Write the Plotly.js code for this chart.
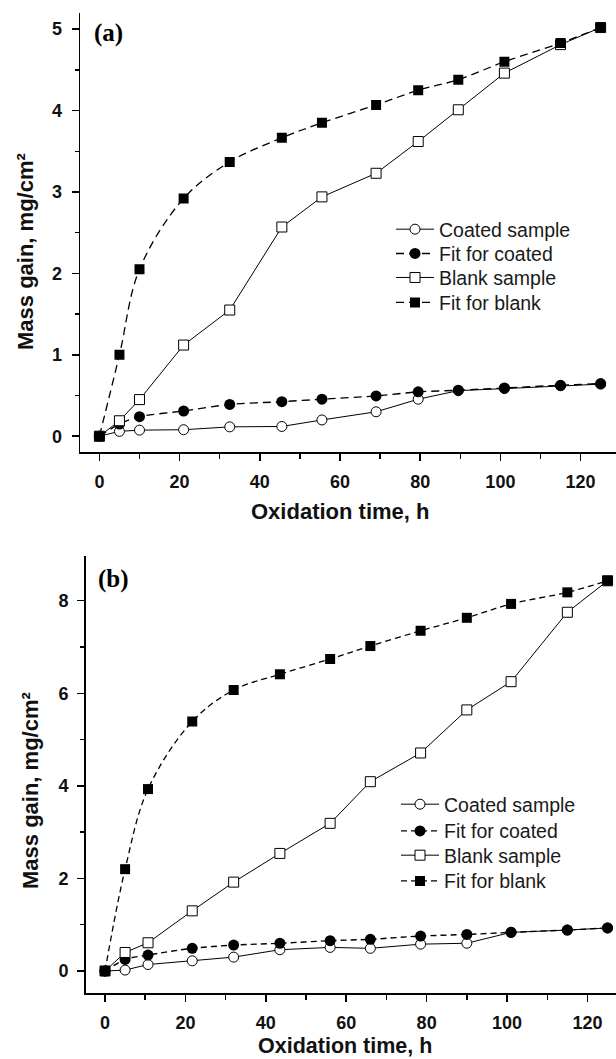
<!DOCTYPE html>
<html>
<head>
<meta charset="utf-8">
<script src="https://cdn.plot.ly/plotly-3.0.1.min.js"></script>
<style>html,body{margin:0;padding:0;background:#fff;}#chart{width:616px;height:1059px;}</style>
</head>
<body>
<div id="chart"></div>
<script>
// ---- Panel (a) data ----
var timeA = [0, 5, 10, 21, 32.5, 45.5, 55.5, 69, 79.5, 89.5, 101, 115, 125];
var coatedA = [0, 0.06, 0.075, 0.08, 0.115, 0.12, 0.20, 0.30, 0.455, 0.56, 0.585, 0.62, 0.64];
var fitCoatedA = [0, 0.15, 0.24, 0.31, 0.39, 0.425, 0.455, 0.495, 0.545, 0.565, 0.593, 0.626, 0.647];
var blankA = [0, 0.19, 0.45, 1.12, 1.55, 2.57, 2.94, 3.23, 3.62, 4.01, 4.46, 4.81, 5.02];
var fitBlankA = [0, 1.0, 2.05, 2.92, 3.37, 3.665, 3.85, 4.07, 4.25, 4.38, 4.60, 4.83, 5.02];

// ---- Panel (b) data ----
var timeB = [0, 5, 10.7, 21.7, 32, 43.5, 56, 66, 78.5, 90, 101, 115, 125];
var coatedB = [0, 0.02, 0.14, 0.22, 0.30, 0.46, 0.51, 0.49, 0.58, 0.60, 0.835, 0.885, 0.93];
var fitCoatedB = [0, 0.25, 0.345, 0.49, 0.56, 0.60, 0.655, 0.685, 0.755, 0.79, 0.835, 0.885, 0.93];
var blankB = [0, 0.40, 0.61, 1.30, 1.92, 2.54, 3.19, 4.09, 4.71, 5.64, 6.25, 7.75, 8.43];
var fitBlankB = [0, 2.2, 3.93, 5.39, 6.07, 6.41, 6.74, 7.02, 7.35, 7.63, 7.93, 8.18, 8.43];

var seriesNames = ["Coated sample", "Fit for coated", "Blank sample", "Fit for blank"];
var panelLabels = ["(a)", "(b)"];
var xTitle = "Oxidation time, h";
var yTitle = "Mass gain, mg/cm\u00B2";

var W = 616, H = 1059;
function px(x){ return x / W; }
function py(y){ return 1 - y / H; }

var SANS = "Liberation Sans, Arial, Helvetica, sans-serif";
var SERIF = "Liberation Serif, Times New Roman, serif";

function makeTraces(t, coated, fitC, blank, fitB, xa, ya, legs, dash) {
  return [
    {x: t, y: coated, name: seriesNames[0], xaxis: xa, yaxis: ya, legend: legs[0],
     mode: "lines+markers", line: {color: "#000", width: 1},
     marker: {symbol: "circle", size: 10, color: "#fff", line: {color: "#000", width: 1}}},
    {x: t, y: fitC, name: seriesNames[1], xaxis: xa, yaxis: ya, legend: legs[1],
     mode: "lines+markers", line: {color: "#000", width: 1.4, dash: dash, shape: "spline", smoothing: 0.8},
     marker: {symbol: "circle", size: 11, color: "#000"}},
    {x: t, y: blank, name: seriesNames[2], xaxis: xa, yaxis: ya, legend: legs[2],
     mode: "lines+markers", line: {color: "#000", width: 1},
     marker: {symbol: "square", size: 10, color: "#fff", line: {color: "#000", width: 1}}},
    {x: t, y: fitB, name: seriesNames[3], xaxis: xa, yaxis: ya, legend: legs[3],
     mode: "lines+markers", line: {color: "#000", width: 1.3, dash: dash, shape: "spline", smoothing: 1},
     marker: {symbol: "square", size: 10, color: "#000"}}
  ];
}

var data = [].concat(
  makeTraces(timeA, coatedA, fitCoatedA, blankA, fitBlankA, "x", "y",
             ["legend", "legend2", "legend3", "legend4"], "8px,5px"),
  makeTraces(timeB, coatedB, fitCoatedB, blankB, fitBlankB, "x2", "y2",
             ["legend5", "legend6", "legend7", "legend8"], "6px,4px")
);

var tickFont = {family: SANS, size: 18, color: "#111", weight: "bold"};

function xAxis(dom, rng, anchor) {
  return {domain: dom, range: rng, anchor: anchor, dtick: 20, tick0: 0,
    ticks: "outside", ticklen: 7, tickwidth: 1.5, tickcolor: "#000",
    minor: {dtick: 10, tick0: 0, ticks: "outside", ticklen: 5, tickwidth: 1.5, tickcolor: "#000"},
    showline: true, linewidth: 1.8, linecolor: "#000", showgrid: false, zeroline: false,
    tickfont: tickFont, ticklabelstandoff: 6, fixedrange: true};
}
function xTop(dom, rng, anchor, over) {
  return {domain: dom, range: rng, anchor: anchor, overlaying: over, side: "top",
    dtick: 10, tick0: 0, ticks: "inside", ticklen: 4, tickwidth: 1.5, tickcolor: "#000",
    showticklabels: false, showline: true, linewidth: 1.8, linecolor: "#000",
    showgrid: false, zeroline: false, fixedrange: true};
}
function yAxis(dom, rng, anchor, dt, mdt, standoff) {
  return {domain: dom, range: rng, anchor: anchor, dtick: dt, tick0: 0,
    ticks: "outside", ticklen: 7, tickwidth: 1.5, tickcolor: "#000",
    minor: {dtick: mdt, tick0: 0, ticks: "outside", ticklen: 4, tickwidth: 1.5, tickcolor: "#000"},
    showline: true, linewidth: 1.8, linecolor: "#000", showgrid: false, zeroline: false,
    tickfont: tickFont, ticklabelstandoff: standoff, fixedrange: true};
}

var legendFont = {family: SANS, size: 19.5, color: "#1a1a1a"};
function legendAt(xpx, toppx) {
  return {x: px(xpx), y: py(toppx), xanchor: "left", yanchor: "top", itemwidth: 38,
    bgcolor: "rgba(0,0,0,0)", borderwidth: 0, font: legendFont};
}

var titleFont = {family: SANS, size: 22, color: "#111", weight: "bold"};
var titleFontB = {family: SANS, size: 21.5, color: "#111", weight: "bold"};

var layout = {
  width: W, height: H,
  margin: {l: 0, r: 0, t: 0, b: 0},
  paper_bgcolor: "#fff", plot_bgcolor: "rgba(0,0,0,0)",
  showlegend: true,
  xaxis: xAxis([px(80.4), 1], [-4.738, 128.83], "y"),
  yaxis: yAxis([py(451.7), py(13.3)], [-0.19, 5.195], "x", 1, 0.5, 6),
  xaxis3: xTop([px(80.4), 1], [-4.738, 128.83], "y", "x"),
  xaxis2: xAxis([px(85.9), 1], [-4.75, 127.1], "y2"),
  yaxis2: yAxis([py(993), py(556)], [-0.475, 8.965], "x2", 2, 1, 5),
  xaxis4: xTop([px(85.9), 1], [-4.75, 127.1], "y2", "x2"),
  legend:  legendAt(391, 210),
  legend2: legendAt(391, 234.3),
  legend3: legendAt(391, 258.3),
  legend4: legendAt(391, 283.3),
  legend5: legendAt(396, 785),
  legend6: legendAt(396, 811.7),
  legend7: legendAt(396, 836),
  legend8: legendAt(396, 861.7),
  annotations: [
    {text: panelLabels[0], x: px(92), y: py(33.3), xref: "paper", yref: "paper",
     xanchor: "left", yanchor: "middle", showarrow: false,
     font: {family: SERIF, size: 25, color: "#000", weight: "bold"}},
    {text: panelLabels[1], x: px(95.7), y: py(579.3), xref: "paper", yref: "paper",
     xanchor: "left", yanchor: "middle", showarrow: false,
     font: {family: SERIF, size: 25, color: "#000", weight: "bold"}},
    {text: xTitle, x: px(340), y: py(511.7), xref: "paper", yref: "paper",
     xanchor: "center", yanchor: "middle", showarrow: false, font: titleFont},
    {text: xTitle, x: px(345.3), y: 0, xref: "paper", yref: "paper", borderpad: 0,
     xanchor: "center", yanchor: "bottom", showarrow: false, font: titleFontB},
    {text: yTitle, x: px(26), y: py(252), xref: "paper", yref: "paper", textangle: -90,
     xanchor: "center", yanchor: "middle", showarrow: false, font: titleFont},
    {text: yTitle, x: px(30), y: py(791), xref: "paper", yref: "paper", textangle: -90,
     xanchor: "center", yanchor: "middle", showarrow: false, font: titleFont}
  ]
};

Plotly.newPlot("chart", data, layout, {displayModeBar: false, staticPlot: true});
</script>
</body>
</html>
